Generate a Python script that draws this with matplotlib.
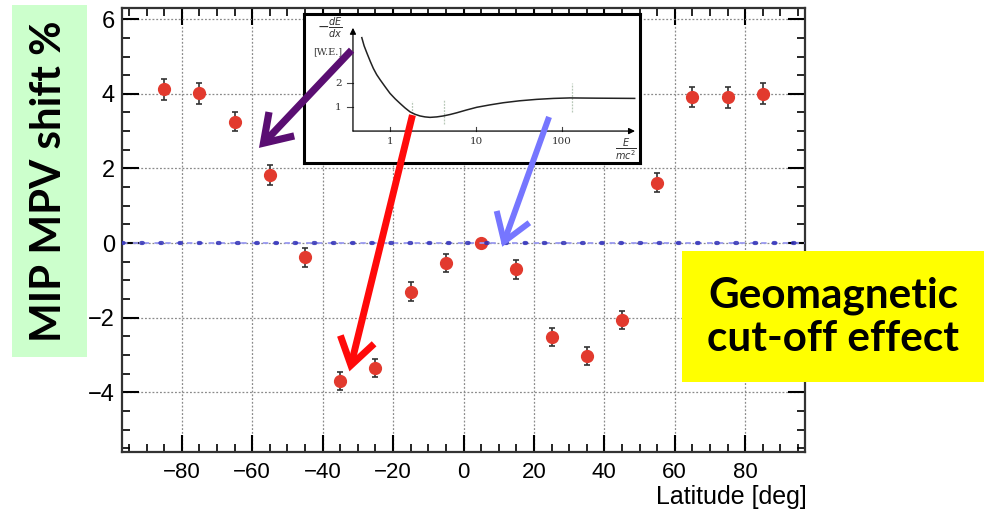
import matplotlib
matplotlib.use("Agg")
import matplotlib.pyplot as plt
from matplotlib.patches import Rectangle, FancyArrowPatch
from matplotlib.ticker import MultipleLocator

# MIP most-probable-value shift versus geomagnetic latitude
latitude = [-85, -75, -65, -55, -45, -35, -25, -15, -5, 5, 15, 25, 35, 45, 55, 65, 75, 85]
mpv_shift = [4.12, 4.01, 3.25, 1.82, -0.38, -3.70, -3.35, -1.30, -0.53, 0.0,
             -0.70, -2.52, -3.02, -2.05, 1.62, 3.92, 3.91, 4.00]
shift_err = [0.28, 0.28, 0.26, 0.26, 0.25, 0.24, 0.25, 0.25, 0.25, 0.05,
             0.25, 0.25, 0.24, 0.24, 0.25, 0.27, 0.28, 0.28]

x_ticks = [-80, -60, -40, -20, 0, 20, 40, 60, 80]
y_ticks = [-4, -2, 0, 2, 4, 6]

# Energy-loss sketch (dE/dx against E/mc^2) for the inset
e_over_mc2 = [0.47, 0.50, 0.54, 0.59, 0.64, 0.70, 0.77, 0.88, 1.0, 1.15, 1.31, 1.50,
              1.71, 1.95, 2.23, 2.55, 2.92, 3.5, 4.17, 5.0, 5.96, 7.8, 10.2, 14.5,
              20.8, 32.0, 50.6, 80.0, 124, 250, 700]
dedx_we = [3.89, 3.55, 3.24, 2.90, 2.61, 2.35, 2.13, 1.84, 1.57, 1.34, 1.15, 0.96,
           0.80, 0.70, 0.63, 0.59, 0.57, 0.59, 0.63, 0.69, 0.76, 0.88, 0.99, 1.09,
           1.18, 1.26, 1.32, 1.36, 1.38, 1.37, 1.36]
inset_xticks = [1, 10, 100]
inset_yticks = [1, 2]

plt.rcParams["font.family"] = ["Liberation Sans", "DejaVu Sans"]

W, H = 989, 518
fig = plt.figure(figsize=(W / 100, H / 100), dpi=100)
fig.patch.set_facecolor("white")


def px_box(x0, y0, x1, y1):
    """Figure-fraction rectangle from pixel corners (top-left origin)."""
    return [x0 / W, 1 - y1 / H, (x1 - x0) / W, (y1 - y0) / H]


ax = fig.add_axes(px_box(122, 8, 805, 452))
ax.set_xlim(-97, 97)
ax.set_ylim(-5.6, 6.3)
ax.set_xticks(x_ticks)
ax.set_yticks(y_ticks)
ax.xaxis.set_minor_locator(MultipleLocator(5))
ax.yaxis.set_minor_locator(MultipleLocator(0.5))
ax.tick_params(which="both", direction="in", top=True, right=True, labelsize=16)
ax.tick_params(which="major", length=12, width=1.5)
ax.tick_params(which="minor", length=6, width=1.2)
ax.tick_params(axis="x", pad=7)
ax.tick_params(axis="y", pad=5, labelsize=17)
for sp in ax.spines.values():
    sp.set_linewidth(1.6)
    sp.set_color("#333333")

ax.grid(True, which="major", color="#8a8a8a", lw=0.9, ls=(0, (1.5, 1.5)))
ax.set_axisbelow(True)

ax.errorbar(latitude, mpv_shift, yerr=shift_err, fmt="o", color="#e23a2e",
            ms=8.5, mec="#e23a2e", ecolor="#333333", elinewidth=1.2,
            capsize=2, capthick=1.2, zorder=3)

# reference line at zero shift
ax.axhline(0, color="#9a9af0", lw=1.3, ls=(0, (3, 3)), zorder=4)
ax.axhline(0, color="#3030b8", lw=3, ls=(0, (0.4, 4.2)),
           dash_capstyle="round", alpha=0.85, zorder=4)

ax.set_xlabel("Latitude [deg]", fontsize=18, loc="right")
ax.xaxis.set_label_coords(1.003, -0.075)

# ---- inset: Bethe-Bloch style sketch ----
axi = fig.add_axes(px_box(304, 14, 640, 163))
axi.set_xscale("log")
axi.set_xlim(10 ** -1.0, 10 ** 2.907)
axi.set_ylim(-1.33, 4.875)
axi.set_xticks([])
axi.set_yticks([])
axi.minorticks_off()
for sp in axi.spines.values():
    sp.set_linewidth(2.2)
    sp.set_color("black")
axi.set_facecolor("white")

x0_in = 0.371
axi.annotate("", xy=(x0_in, 4.3), xytext=(x0_in, 0),
             arrowprops=dict(arrowstyle="-|>", color="black", lw=0.9,
                             mutation_scale=9, shrinkA=0, shrinkB=0))
axi.annotate("", xy=(706, 0), xytext=(x0_in, 0),
             arrowprops=dict(arrowstyle="-|>", color="black", lw=0.9,
                             mutation_scale=9, shrinkA=0, shrinkB=0))
for yt in inset_yticks:
    axi.plot([x0_in / 1.16, x0_in], [yt, yt], color="#444444", lw=0.8)
    axi.text(x0_in / 1.35, yt, str(yt), fontsize=7.5, ha="right", va="center",
             family="DejaVu Serif", color="#333333")
for xt in inset_xticks:
    axi.plot([xt, xt], [0, 0.15], color="#444444", lw=0.8)
    axi.text(xt, -0.25, str(xt), fontsize=7.5, ha="center", va="top",
             family="DejaVu Serif", color="#333333")
# faint marker segments on the curve
for xm, ya, yb in [(1.79, 0.35, 1.25), (4.2, 0.3, 1.3), (129, 0.8, 2.0)]:
    axi.plot([xm, xm], [ya, yb], color="#b8c8b8", lw=0.9, ls=(0, (1.5, 1)))
axi.plot(e_over_mc2, dedx_we, color="#222222", lw=1.1)
axi.text(0.2, 4.3, r"$-\frac{dE}{dx}$", fontsize=10, ha="center", va="center",
         color="#333333")
axi.text(0.19, 3.3, "[W.E.]", fontsize=7, ha="center", va="center",
         family="DejaVu Serif", color="#333333")
axi.text(560, -0.78, r"$\frac{E}{mc^2}$", fontsize=10, ha="center", va="center",
         color="#333333")

# ---- annotation arrows ----
arrow_specs = [
    ((-31.8, 5.17), (-58.1, 2.55), "#5a0e72", 5.2),
    ((-14.5, 3.43), (-32.4, -3.44), "#ff0a0a", 5.0),
    ((24.3, 3.38), (11.0, -0.10), "#7676ff", 4.3),
]
for tail, tip, col, lw in arrow_specs:
    arr = FancyArrowPatch(tail, tip, transform=ax.transData,
                          arrowstyle="->,head_length=1.9,head_width=1.25",
                          mutation_scale=10, color=col, lw=lw,
                          shrinkA=0, shrinkB=0, capstyle="butt",
                          joinstyle="miter", zorder=20)
    fig.add_artist(arr)

# ---- side labels ----
fig.add_artist(Rectangle((12 / W, 1 - 357 / H), 75 / W, 352 / H,
                         transform=fig.transFigure, facecolor="#ccffcc",
                         edgecolor="none", zorder=1))
ylab = fig.text(49.5 / W, 1 - 181 / H, "MIP MPV shift %", rotation=90,
                ha="center", va="center", fontsize=28, fontweight="bold",
                family=["Lato", "DejaVu Sans"], color="black", zorder=2)

fig.add_artist(Rectangle((682 / W, 1 - 382 / H), 302 / W, 131 / H,
                         transform=fig.transFigure, facecolor="#ffff00",
                         edgecolor="none", zorder=25))
box_txt = fig.text(833 / W, 1 - 317 / H, "Geomagnetic\ncut-off effect",
                   ha="center", va="center", fontsize=26, fontweight="bold",
                   family=["Lato", "DejaVu Sans"], color="black",
                   linespacing=1.15, zorder=26)

# size the box captions to their boxes
fig.canvas.draw()
rend = fig.canvas.get_renderer()
bb = ylab.get_window_extent(rend)
ylab.set_fontsize(ylab.get_fontsize() * 322 / bb.height)
bb = box_txt.get_window_extent(rend)
box_txt.set_fontsize(box_txt.get_fontsize() * 252 / bb.width)

fig.savefig("out.png", dpi=100, facecolor="white")
